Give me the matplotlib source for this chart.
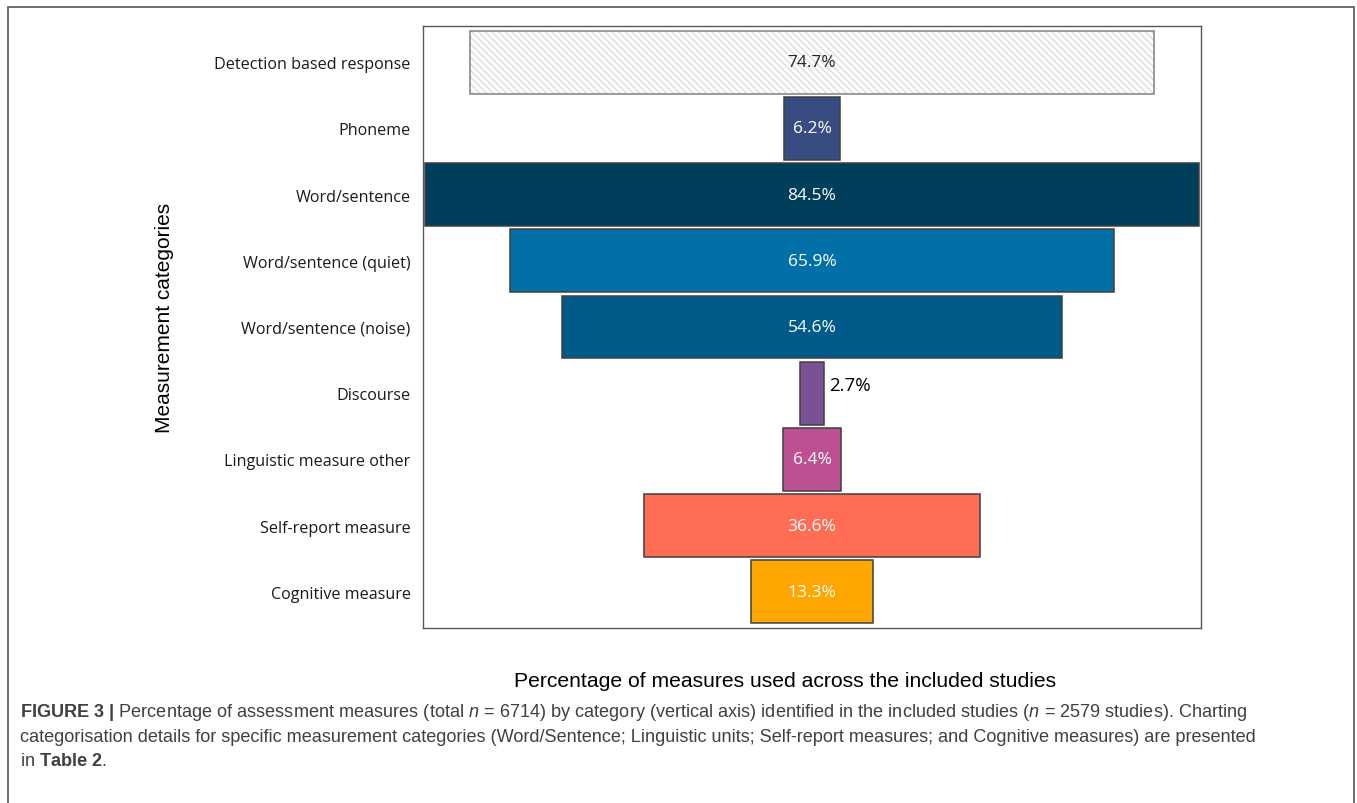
import numpy as np
import matplotlib.pyplot as plt
from matplotlib.patches import Rectangle

# funnel data: share of measures per category (%)
categories = ['Detection based response', 'Phoneme', 'Word/sentence',
              'Word/sentence (quiet)', 'Word/sentence (noise)', 'Discourse',
              'Linguistic measure other', 'Self-report measure', 'Cognitive measure']
percent = [74.7, 6.2, 84.5, 65.9, 54.6, 2.7, 6.4, 36.6, 13.3]
colors = ['white', '#374c80', '#003f5c', '#0070a7', '#005b8a',
          '#7a5195', '#bc5090', '#ff6e54', '#ffa600']

plt.rcParams['mathtext.fontset'] = 'custom'
plt.rcParams['mathtext.rm'] = 'Liberation Sans'
plt.rcParams['mathtext.it'] = 'Liberation Sans:italic'
plt.rcParams['mathtext.bf'] = 'Liberation Sans:bold'

fig = plt.figure(figsize=(13.57, 8.04), dpi=100)
ax = fig.add_axes([423/1357, 1 - 629/804, 778/1357, 602/804])

y = np.arange(len(categories))
vals = np.array(percent)
edge = '#404040'

# hatched first bar: stripes first, then outline on top
ax.barh(y[0], vals[0], left=-vals[0]/2, height=0.95, color='white',
        edgecolor='#dcdcdc', hatch='\\\\\\\\\\', linewidth=0)
ax.barh(y[0], vals[0], left=-vals[0]/2, height=0.95, fill=False,
        edgecolor='#808080', linewidth=1.1)
ax.barh(y[1:], vals[1:], left=-vals[1:]/2, height=0.95, color=colors[1:],
        edgecolor=edge, linewidth=1.1)

for i, v in enumerate(percent):
    if i == 0:
        ax.text(0, y[i], f'{v}%', ha='center', va='center', color='#262626',
                fontsize=12.5, family='Open Sans')
    elif v < 5:
        ax.text(v/2 + 0.5, y[i] - 0.12, f'{v}%', ha='left', va='center',
                color='black', fontsize=13.5, family='Open Sans')
    else:
        ax.text(0, y[i], f'{v}%', ha='center', va='center', color='white',
                fontsize=12.5, family='Open Sans')

ax.set_xlim(-42.45, 42.45)
ax.set_ylim(len(categories) - 0.455, -0.545)
ax.set_yticks(y)
ax.set_yticklabels(categories, fontsize=11.6, family='Open Sans', color='#1a1a1a')
ax.set_xticks([])
ax.tick_params(axis='y', length=0, pad=9)
for s in ax.spines.values():
    s.set_color('#595959')
    s.set_linewidth(1)

fig.text(165/1357, 1 - 318/804, 'Measurement categories', rotation=90,
         ha='center', va='center', fontsize=15, family='Liberation Sans')
fig.text(785/1357, 1 - 682/804, 'Percentage of measures used across the included studies',
         ha='center', va='center', fontsize=15.2, family='Liberation Sans')

# caption
cap = '#404040'
cap_size = 13.1
fig.text(20/1357, 1 - 713/804,
         r'$\mathbf{FIGURE\ 3\ |}$ Percentage of assessment measures (total $n$ = 6714) by category '
         r'(vertical axis) identified in the included studies ($n$ = 2579 studies). Charting',
         ha='left', va='center', fontsize=cap_size, family='Liberation Sans', color=cap)
fig.text(20/1357, 1 - 738/804,
         'categorisation details for specific measurement categories (Word/Sentence; Linguistic '
         'units; Self-report measures; and Cognitive measures) are presented',
         ha='left', va='center', fontsize=cap_size, family='Liberation Sans', color=cap)
fig.text(20/1357, 1 - 762/804, r'in $\mathbf{Table\ 2}$.',
         ha='left', va='center', fontsize=cap_size, family='Liberation Sans', color=cap)

# outer figure frame, open at the bottom
fig.add_artist(Rectangle((8/1357, -0.05), 1346/1357, 1.05 - 8/804, transform=fig.transFigure,
                         fill=False, edgecolor='#555555', linewidth=1.2))

fig.savefig('out.png', dpi=100)
